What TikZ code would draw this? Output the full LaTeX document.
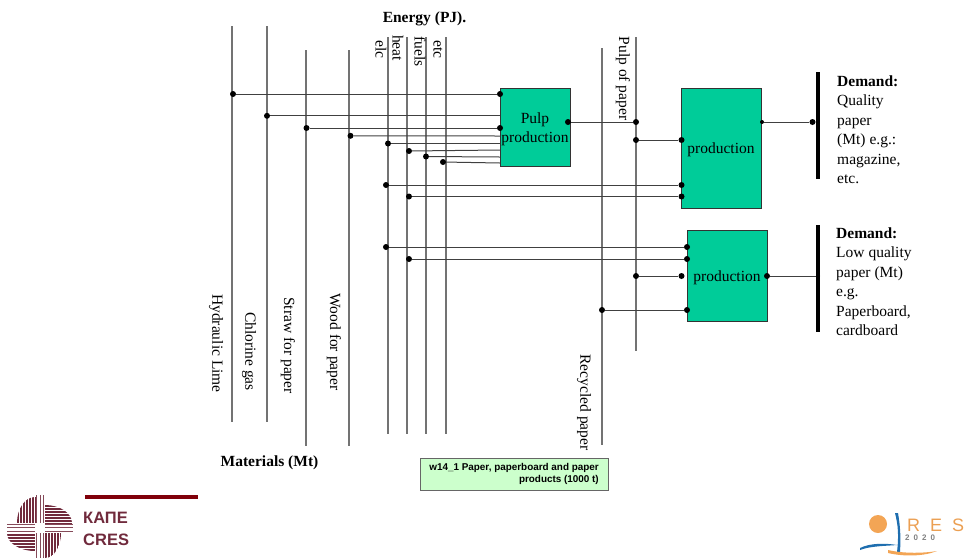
\documentclass[tikz,border=0pt]{standalone}
\usepackage{fontspec}
\setmainfont{Liberation Serif}
\newfontfamily\sansfont{Liberation Sans}
\definecolor{boxgreen}{RGB}{0,204,153}
\definecolor{notegreen}{RGB}{204,255,204}
\definecolor{cresred}{RGB}{112,42,60}
\definecolor{barred}{RGB}{128,0,10}
\definecolor{resorange}{RGB}{243,165,85}
\definecolor{resblue}{RGB}{30,110,175}
\newcommand{\lowered}[1]{\raisebox{-2pt}[\height][\depth]{#1}}
\tikzset{
  bus/.style={black!55,line width=1.1pt},
  link/.style={black!75,line width=1pt},
  dot/.style={circle,fill=black,inner sep=0pt,minimum size=6pt},
  nodot/.style={inner sep=0pt,minimum size=0pt},
  procbox/.style={draw=black!80,fill=boxgreen,inner sep=0pt,align=center,
    font=\fontsize{15.5}{19}\selectfont},
  vlabel/.style={rotate=-90,inner sep=0pt,font=\fontsize{15.5}{18}\selectfont},
  heading/.style={inner sep=0pt,font=\fontsize{15.5}{18}\selectfont\bfseries},
  demand/.style={anchor=north west,inner sep=0pt,align=left,
    font=\fontsize{15.5}{19.5}\selectfont},
}
\begin{document}
\begin{tikzpicture}[x=1pt,y=-1pt]
        \useasboundingbox (0,0) rectangle (968,558);

        % Input and output lines (vertical)
        \foreach \nm/\x/\ya/\yb in {hydro/232/26/422,chlor/267/26/422,straw/306/50/446,
          wood/349/50/446,elc/388/37/434,heat/407/37/434,fuels/426/37/434,etc/446/37/434,
          recycled/602/48/445,pulpline/636/37/351}{
          \coordinate (\nm top) at (\x,\ya);
          \coordinate (\nm bot) at (\x,\yb);
          \draw[bus] (\nm top)--(\nm bot);
        }

        % Process boxes
        \node[procbox,minimum width=70pt,minimum height=78pt] (pulp) at (535,127) {\lowered{Pulp}\\\lowered{production}};
        \node[procbox,minimum width=80pt,minimum height=120pt] (prodhigh) at (721,148) {\lowered{production}};
        \node[procbox,minimum width=80pt,minimum height=91pt] (prodlow) at (727,275.5) {\lowered{production}};

        % Links with their end dots
        \foreach \nm/\xa/\ya/\xb/\yb/\st in {
          a/233/94/500/94/dot,b/267/115.8/500/115.8/nodot,c/306.5/128/500/128/dot,
          d/350.5/135.8/500/136/nodot,e/388/143.5/500/143.5/nodot,f/409/151/500/150/nodot,
          g/426/156.5/500/157/nodot,h/443/162/500/163/nodot,
          i/386/185/681.5/185/dot,j/409/196.5/681.5/196.5/dot,
          k/568/122/636/122/dot,l/636/140/681.5/140/dot,
          m/386/247/687/247/dot,n/409/259/687/259/dot,
          o/636/276/681.5/276/dot,p/602/310/687/310/dot}{
          \node[dot] (\nm from) at (\xa,\ya) {};
          \node[\st] (\nm to) at (\xb,\yb) {};
          \draw[link] (\nm from)--(\nm to);
        }

        % Demand bars
        \draw[line width=4pt] (818,72) coordinate (barhigh top)--(818,179) coordinate (barhigh bot);
        \draw[line width=4pt] (818,225) coordinate (barlow top)--(818,332) coordinate (barlow bot);
        \node[dot,minimum size=4pt] (outhigh) at (762,122) {};
        \node[dot] (inhigh) at (812.5,122) {};
        \draw[link] (outhigh)--(inhigh);
        \node[dot] (outlow) at (767,276) {};
        \node[dot,minimum size=4pt] (inlow) at (818,276) {};
        \draw[link] (outlow)--(inlow);

        % Labels
        \node[heading] (energy) at (424.5,19) {Energy (PJ).};
        \node[heading] (materials) at (269.5,463) {Materials (Mt)};
        \foreach \nm/\x/\y/\txt in {hydrolab/216/343.5/Hydraulic Lime,chlorlab/249/351.5/Chlorine gas,
          strawlab/288/345.5/Straw for paper,woodlab/334/342/Wood for paper,
          elclab/381/49.5/elc,heatlab/398/48/heat,fuelslab/420/51.5/fuels,etclab/438/49.5/etc,
          recycledlab/584/402.5/Recycled paper,pulplab/623/78.5/Pulp of paper}{
          \node[vlabel] (\nm) at (\x,\y) {\txt};
        }
        \node[demand] (demandhigh) at (837,75.5) {\textbf{Demand:}\\Quality\\paper\\(Mt) e.g.:\\magazine,\\etc.};
        \node[demand] (demandlow) at (836,227.5) {\textbf{Demand:}\\Low quality\\paper (Mt)\\e.g.\\Paperboard,\\cardboard};

        % Table note
        \node[draw=black!60,fill=notegreen,minimum width=188pt,minimum height=32pt,inner sep=0pt] (note) at (514,474) {};
        \node[anchor=east,inner sep=0pt,align=right,font=\sansfont\bfseries\fontsize{9.9}{12.6}\selectfont]
          (notetext) at (599,474) {w14\_1 Paper, paperboard and paper\\products (1000 t)};

        % CRES logo
        \begin{scope}
          \clip (35,523) ellipse (18 and 26);
          \foreach \x in {17,20,...,35}{
            \fill[cresred] (\x,495) rectangle ++(2.2,28);
          }
        \end{scope}
        \begin{scope}
          \clip (45,523) ellipse (27 and 18);
          \foreach \y in {505,508,...,523}{
            \fill[cresred] (45,\y) rectangle ++(28,2.2);
          }
        \end{scope}
        \begin{scope}
          \clip (35,533) ellipse (28 and 18);
          \foreach \y in {534,537,...,552}{
            \fill[cresred] (7,\y) rectangle ++(28,2.2);
          }
        \end{scope}
        \begin{scope}
          \clip (45,533) ellipse (16 and 25);
          \foreach \x in {45,48,...,63}{
            \fill[cresred] (\x,533) rectangle ++(2.2,25);
          }
        \end{scope}
        % cross of thin stripes
        \foreach \x in {36,39.5,43}{
          \fill[cresred!85] (\x,495) rectangle ++(1.2,28);
          \fill[cresred!85] (\x,533) rectangle ++(1.2,25);
        }
        \foreach \y in {523.5,527,530.5}{
          \fill[cresred!85] (7,\y) rectangle ++(28,1.2);
          \fill[cresred!85] (45,\y) rectangle ++(28,1.2);
        }
        \fill[barred] (85,495) rectangle (198,499);
        \node[anchor=west,inner sep=0pt,cresred,font=\sansfont\bfseries\fontsize{16.5}{18}\selectfont]
          (kape) at (83,518) {КАПЕ};
        \node[anchor=west,inner sep=0pt,cresred,font=\sansfont\bfseries\fontsize{16.5}{18}\selectfont]
          (cres) at (83,540) {CRES};

        % RES logo
        \fill[resorange] (878,524) circle (9);
        \fill[resblue] (895,513) .. controls (898,525) and (899,535) .. (897,552)
          -- (900,552) .. controls (901,535) and (900,525) .. (898,513) -- cycle;
        \fill[resblue] (860,548) .. controls (870,543) and (885,543) .. (897,545)
          .. controls (885,546) and (870,546) .. (860,550) -- cycle;
        \fill[resorange] (888,550) .. controls (905,554) and (925,553) .. (937,551)
          .. controls (925,556) and (905,557) .. (888,553) -- cycle;
        \node[anchor=west,inner sep=0pt,resorange!85!brown,font=\sansfont\fontsize{18}{20}\selectfont]
          (res) at (907,525) {R\hspace{10pt}E\hspace{10pt}S};
        \node[anchor=west,inner sep=0pt,black!50,font=\sansfont\bfseries\fontsize{8}{9}\selectfont]
          (year) at (905,538) {2\hspace{4pt}0\hspace{4pt}2\hspace{4pt}0};
      \end{tikzpicture}
\end{document}
